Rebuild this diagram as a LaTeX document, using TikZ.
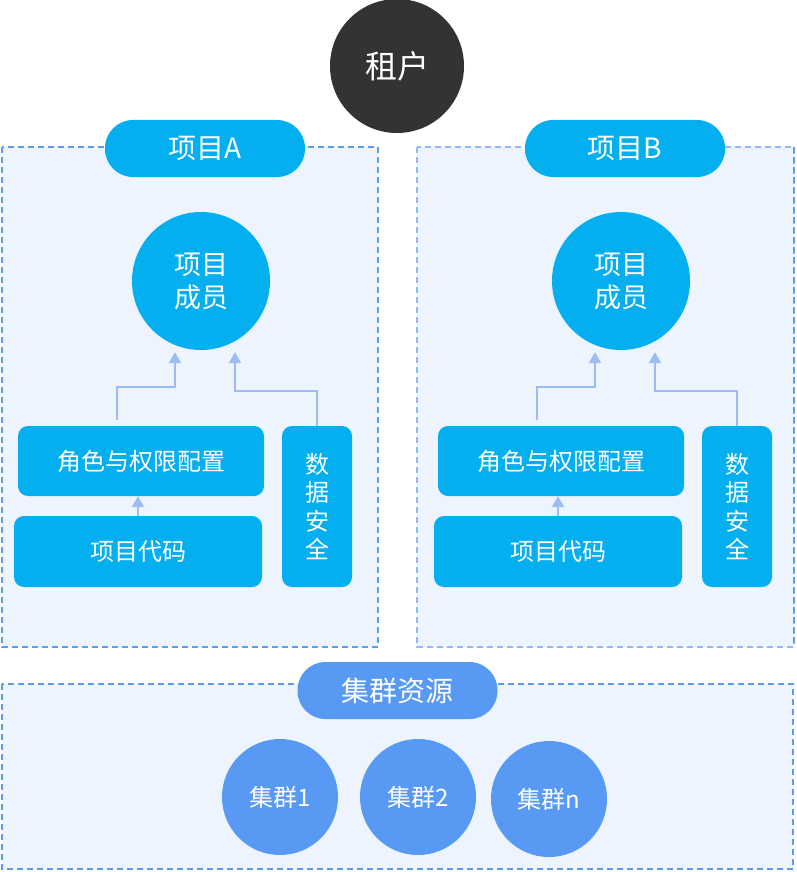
\documentclass[tikz,border=0pt]{standalone}
\usepackage{fontspec}
\newfontfamily\cjk{Noto Sans CJK SC}
\usepackage{xcolor}
\usepackage{tikz}
\usetikzlibrary{arrows.meta, positioning, calc}

\definecolor{tenantgray}{HTML}{333333}
\definecolor{projcyan}{HTML}{03AFEF}
\definecolor{clusterblue}{HTML}{589AF3}
\definecolor{zonefill}{HTML}{EDF4FE}
\definecolor{zoneline}{HTML}{5B9BF0}
\definecolor{zonelight}{HTML}{93B9F4}
\definecolor{linkblue}{HTML}{9DBDF2}

\tikzset{
  zone/.style={fill=zonefill, draw=zoneline, line width=2.2pt, dash pattern=on 6pt off 4pt},
  tag/.style={fill=#1, text=white, rounded corners=28pt, minimum width=200pt, minimum height=57pt,
    inner sep=0pt, font=\cjk\fontsize{28}{32}\selectfont},
  member/.style={circle, fill=projcyan, text=white, minimum size=138pt, inner sep=0pt, align=center,
    font=\cjk\fontsize{27}{33}\selectfont},
  bluebox/.style={fill=projcyan, text=white, rounded corners=10pt, inner sep=0pt,
    font=\cjk\fontsize{24}{28.5}\selectfont},
  cluster/.style={circle, fill=clusterblue, text=white, inner sep=0pt, font=\cjk\fontsize{24}{28}\selectfont},
  link/.style={draw=linkblue, line width=2.2pt, -{Triangle[length=11pt,width=12pt]}},
}

\begin{document}
\begin{tikzpicture}[x=1pt, y=-1pt]
  \useasboundingbox[fill=white] (0,0) rectangle (796,872);

  % dashed regions
  \draw[zone] (2,147) rectangle (378,647);
  \draw[zone, draw=zonelight] (417,147) rectangle (794,647);
  \draw[zoneline, line width=2.2pt, dash pattern=on 6pt off 4pt] (794,147) -- (794,647);
  \draw[zone] (2,684) rectangle (793,869);

  \node[circle, fill=tenantgray, text=white, minimum size=134pt, font=\cjk\fontsize{32}{36}\selectfont]
    (tenant) at (397,66) {租户};

  \foreach \dx/\p in {0/A,420/B} {
    \node[tag=projcyan] (tag\p) at (205+\dx,148.5) {项目\p};
    \node[member] (mem\p) at (201+\dx,281) {项目\\成员};
    \node[bluebox, minimum width=246pt, minimum height=70pt] (role\p) at (141+\dx,461) {角色与权限配置};
    \node[bluebox, minimum width=248pt, minimum height=71pt] (code\p) at (138+\dx,551.5) {项目代码};
    \node[bluebox, minimum width=70pt, minimum height=161pt, align=center] (sec\p) at (317+\dx,506.5)
      {数\\据\\安\\全};
    \draw[link] ($(role\p.north)+(-24,-6)$) -- ++(0,-33) -| ($(mem\p.south)+(-26,2)$);
    \draw[link] (sec\p.north) -- ++(0,-35) -| ($(mem\p.south)+(34,2)$);
    \draw[link] (code\p.north) -- (code\p.north |- role\p.south);
  }

  \node[tag=clusterblue] (pool) at (397.5,690.5) {集群资源};
  \foreach \x/\y/\n in {280/797/1, 418/797/2, 549/799/n} {
    \node[cluster, minimum size=116pt] (clu\n) at (\x,\y) {集群\n};
  }
\end{tikzpicture}
\end{document}
